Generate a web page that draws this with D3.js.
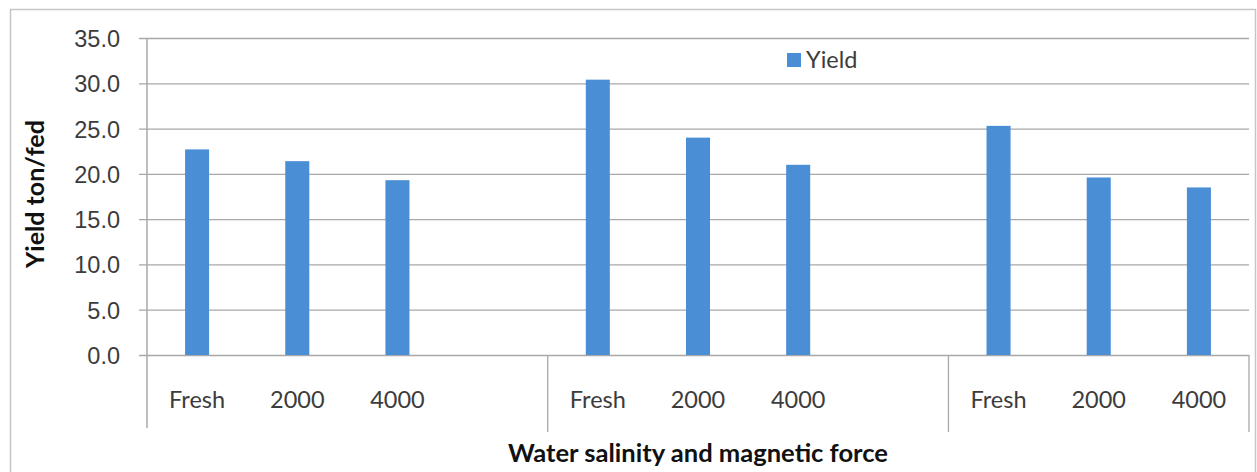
<!DOCTYPE html>
<html>
<head>
<meta charset="utf-8">
<script src="https://cdn.jsdelivr.net/npm/d3@7"></script>
<style>
html,body{margin:0;padding:0;background:#fff;}
svg{display:block;font-family:Lato,"Open Sans",sans-serif;}
</style>
</head>
<body>
<svg id="chart" width="1257" height="472"></svg>
<script>
// ---- data ----
const groups = ["G1", "G2", "G3"];
const categories = ["Fresh", "2000", "4000", "", "Fresh", "2000", "4000", "", "Fresh", "2000", "4000"];
const categoryGroup = [0, 0, 0, 0, 1, 1, 1, 1, 2, 2, 2];
const yieldValues = [22.7, 21.4, 19.3, null, 30.4, 24.0, 21.0, null, 25.3, 19.6, 18.5];
const yTicks = [0, 5, 10, 15, 20, 25, 30, 35];
const seriesName = "Yield";
const yTitle = "Yield ton/fed";
const xTitle = "Water salinity and magnetic force";

// ---- layout ----
const svg = d3.select("#chart");
const plot = {left: 147, right: 1249, top: 38, bottom: 355};
const barColor = "#4a8ed5";
const gridColor = "#a8a8a8";
const axisColor = "#a8a8a8";
const textColor = "#3c3c3c";

// outer chart border
svg.append("rect").attr("x", 10.5).attr("y", 9.5).attr("width", 1245).attr("height", 480)
  .attr("fill", "none").attr("stroke", "#c6c6c6").attr("stroke-width", 1.5);

const idx = d3.range(categories.length);
const x = d3.scaleBand().domain(idx).range([plot.left, plot.right])
  .paddingInner(0.76).paddingOuter(0.38);
const y = d3.scaleLinear().domain([0, 35]).range([plot.bottom, plot.top]);

// gridlines + y ticks
const yAxis = d3.axisLeft(y).tickValues(yTicks).tickFormat(d3.format(".1f"))
  .tickSize(-(plot.right - plot.left) - 8).tickPadding(20);
const gy = svg.append("g").attr("transform", `translate(${plot.left - 8},0)`).call(yAxis);
gy.select(".domain").remove();
gy.selectAll(".tick line").attr("stroke", gridColor).attr("stroke-width", 1.3)
  .attr("x1", 0).attr("x2", plot.right - plot.left + 8);
gy.selectAll(".tick text").attr("fill", textColor).attr("font-size", 23.5)
  .attr("x", 120 - (plot.left - 8)).attr("dy", "0.36em");

// bars
svg.append("g").selectAll("rect").data(idx.filter(i => yieldValues[i] != null)).join("rect")
  .attr("x", i => x(i)).attr("width", x.bandwidth())
  .attr("y", i => y(yieldValues[i])).attr("height", i => y(0) - y(yieldValues[i]))
  .attr("fill", barColor);

// vertical y axis line
svg.append("line").attr("x1", plot.left).attr("x2", plot.left)
  .attr("y1", plot.top).attr("y2", 428).attr("stroke", axisColor).attr("stroke-width", 1.5);

// group separators (multi-level category axis)
const step = x.step();
[4, 8].forEach(i => {
  const sx = x(i) - x.paddingInner() * step / 2;
  svg.append("line").attr("x1", sx).attr("x2", sx).attr("y1", plot.bottom).attr("y2", 432)
    .attr("stroke", axisColor).attr("stroke-width", 1.3);
});
svg.append("line").attr("x1", plot.right).attr("x2", plot.right).attr("y1", plot.bottom).attr("y2", 432)
  .attr("stroke", axisColor).attr("stroke-width", 1.3);

// category labels
svg.append("g").selectAll("text").data(idx.filter(i => categories[i] !== "")).join("text")
  .attr("x", i => x(i) + x.bandwidth() / 2).attr("y", 400).attr("dy", "0.36em")
  .attr("text-anchor", "middle").attr("font-size", 23.5).attr("fill", textColor)
  .text(i => categories[i]);

// legend
svg.append("rect").attr("x", 787).attr("y", 53).attr("width", 14).attr("height", 14).attr("fill", barColor);
svg.append("text").attr("x", 806).attr("y", 60).attr("dy", "0.36em").attr("font-size", 23.5)
  .attr("fill", textColor).text(seriesName);

// axis titles
const xt = svg.append("text").attr("x", 698).attr("y", 453).attr("dy", "0.36em")
  .attr("text-anchor", "middle").attr("font-weight", "bold").attr("font-size", 22)
  .attr("fill", "#111").text(xTitle);
const yt = svg.append("text").attr("transform", "translate(35,194) rotate(-90)").attr("dy", "0.36em")
  .attr("text-anchor", "middle").attr("font-weight", "bold").attr("font-size", 19)
  .attr("fill", "#111").text(yTitle);
function fit(sel, target) {
  const w = sel.node().getComputedTextLength();
  const fs = +sel.attr("font-size");
  sel.attr("font-size", (fs * target / w).toFixed(2));
}
fit(xt, 380);
fit(yt, 148);
</script>
</body>
</html>
